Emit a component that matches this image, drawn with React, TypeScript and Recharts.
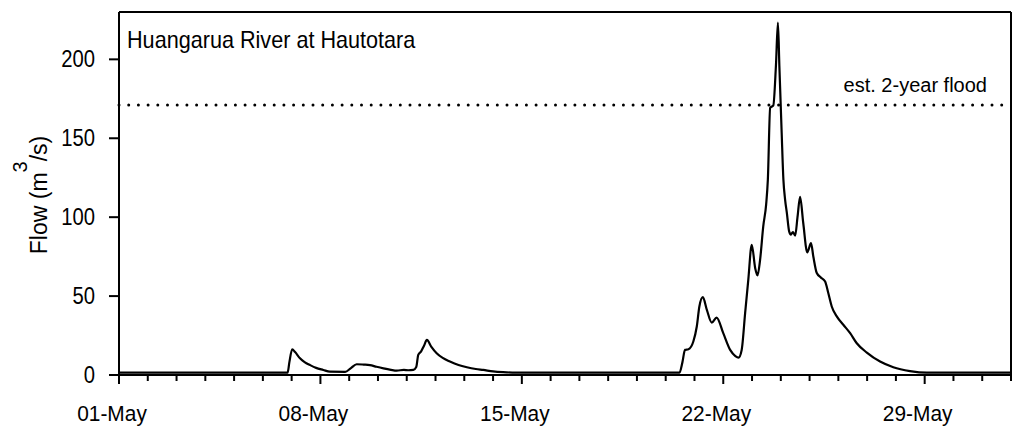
import React from 'react';
import { LineChart, Line, XAxis, YAxis, ReferenceLine } from 'recharts';

const FONT = '"Liberation Sans", Arial, Helvetica, sans-serif';

// days since 01-May 00:00
const days = [
  0, 5.86, 5.92, 6.02, 6.12, 6.29, 6.45, 6.64, 6.85, 7.1, 7.33, 7.86, 8.05, 8.26, 8.5, 8.72, 8.95, 9.19,
  9.45, 9.65, 9.9, 10.05, 10.23, 10.33, 10.4, 10.5, 10.6, 10.7, 10.85, 11.04, 11.25, 11.5, 11.8, 12.09,
  12.4, 12.66, 13.0, 13.35, 13.8, 19.48, 19.58, 19.67, 19.79, 19.96, 20.08, 20.17, 20.29, 20.43, 20.6,
  20.77, 21.0, 21.24, 21.42, 21.53, 21.64, 21.76, 21.87, 21.99, 22.11, 22.19, 22.28, 22.39, 22.49,
  22.55, 22.63, 22.74, 22.83, 22.9, 22.95, 23.03, 23.09, 23.15, 23.21, 23.29, 23.35, 23.42, 23.5,
  23.58, 23.67, 23.78, 23.92, 24.05, 24.13, 24.25, 24.39, 24.54, 24.65, 24.77, 24.95, 25.18, 25.41,
  25.64, 25.99, 26.45, 26.91, 27.49, 28.07, 31,
];

// flow, m3/s
const flows = [
  1.5, 1.5, 8, 16.3, 14.5, 10.6, 8.2, 6.3, 4.5, 3.2, 2.1, 2.0, 4.2, 6.8, 6.6, 6.3, 5.2, 4.2,
  3.3, 2.8, 3.2, 3.0, 3.2, 5, 12.7, 15, 18.5, 22.2, 18, 13.8, 10.8, 8.5, 6.3, 4.9,
  3.8, 3.2, 2.3, 1.8, 1.5, 1.5, 8, 15.9, 16.3, 21.2, 30.7, 43.4, 49.3, 41.3, 33.2,
  36.4, 26.5, 15.9, 12, 11.0, 15.9, 39.2, 60.3, 82.5, 67.7, 63.1, 73, 94.2, 108,
  123.8, 169.3, 170.8, 195.8, 223.3, 195.8, 153.5, 123.8, 111, 102.7, 91, 89, 90.6, 88.3,
  100, 112.8, 96.3, 77.7, 83.6, 75.1, 64.6, 61.8, 59.2, 51.9, 43.4, 37, 31.7, 26.5,
  20.1, 14.2, 8.5, 4.9, 2.5, 1.5, 1.5,
];

const allTickDays = Array.from({ length: 32 }, (_, i) => i);
const majorDays = [0, 7, 14, 21, 28];
const xLabels = ['01-May', '08-May', '15-May', '22-May', '29-May'];
const yTicks = [0, 50, 100, 150, 200];
const floodLevel = 171;
const title = 'Huangarua River at Hautotara';
const floodLabel = 'est. 2-year flood';

const data = days.map((d, i) => ({ day: d, flow: flows[i] }));

const XTick = (props: any) => {
  const { x, y, payload } = props;
  const idx = majorDays.indexOf(payload.value);
  const major = idx >= 0;
  return (
    <g>
      <line x1={x} x2={x} y1={y} y2={y + (major ? 9 : 6)} stroke="#000" strokeWidth={2} />
      {major && (
        <text
          transform={`translate(${x - 7},${y + 46}) scale(0.95,1)`}
          x={0}
          y={0}
          textAnchor="middle"
          fontSize={22}
          fontFamily={FONT}
          fill="#000"
        >
          {xLabels[idx]}
        </text>
      )}
    </g>
  );
};

const YTick = (props: any) => {
  const { x, y, payload } = props;
  return (
    <text
      transform={`translate(${x},${y + 8}) scale(0.88,1)`}
      x={0}
      y={0}
      textAnchor="end"
      fontSize={23}
      fontFamily={FONT}
      fill="#000"
    >
      {payload.value}
    </text>
  );
};

export default function App() {
  return (
    <div style={{ position: 'absolute', left: 0, top: 0, width: 1013, height: 430, background: '#fff' }}>
      <LineChart width={1013} height={430} data={data} margin={{ top: 12, right: 2, left: 0, bottom: 0 }}>
        <XAxis
          dataKey="day"
          type="number"
          domain={[0, 31]}
          ticks={allTickDays}
          interval={0}
          height={55}
          tickSize={0}
          tickMargin={0}
          tickLine={false}
          axisLine={{ stroke: '#000', strokeWidth: 2 }}
          tick={<XTick />}
        />
        <YAxis
          type="number"
          domain={[0, 230]}
          ticks={yTicks}
          width={119}
          tickSize={10}
          tickMargin={14}
          interval={0}
          axisLine={{ stroke: '#000', strokeWidth: 2 }}
          tickLine={{ stroke: '#000', strokeWidth: 2 }}
          tick={<YTick />}
        />
        <ReferenceLine y={230} stroke="#000" strokeWidth={2} />
        <ReferenceLine x={31} stroke="#000" strokeWidth={2} />
        <ReferenceLine
          y={floodLevel}
          stroke="#000"
          strokeWidth={3}
          strokeDasharray="0 9.7"
          strokeLinecap="round"
        />
        <Line
          type="monotone"
          dataKey="flow"
          stroke="#000"
          strokeWidth={2.2}
          dot={false}
          isAnimationActive={false}
        />
        <text transform="translate(127,48) scale(0.94,1)" x={0} y={0} fontSize={23} fontFamily={FONT} fill="#000">
          {title}
        </text>
        <text x={987} y={92} fontSize={20} fontFamily={FONT} fill="#000" textAnchor="end">
          {floodLabel}
        </text>
        <text transform="translate(47,195) rotate(-90)" x={0} y={0} fontSize={23} fontFamily={FONT} fill="#000" textAnchor="middle">
          <tspan>Flow (m</tspan>
          <tspan dy={-20} fontSize={20}>3</tspan>
          <tspan dy={20}>/s)</tspan>
        </text>
      </LineChart>
    </div>
  );
}
